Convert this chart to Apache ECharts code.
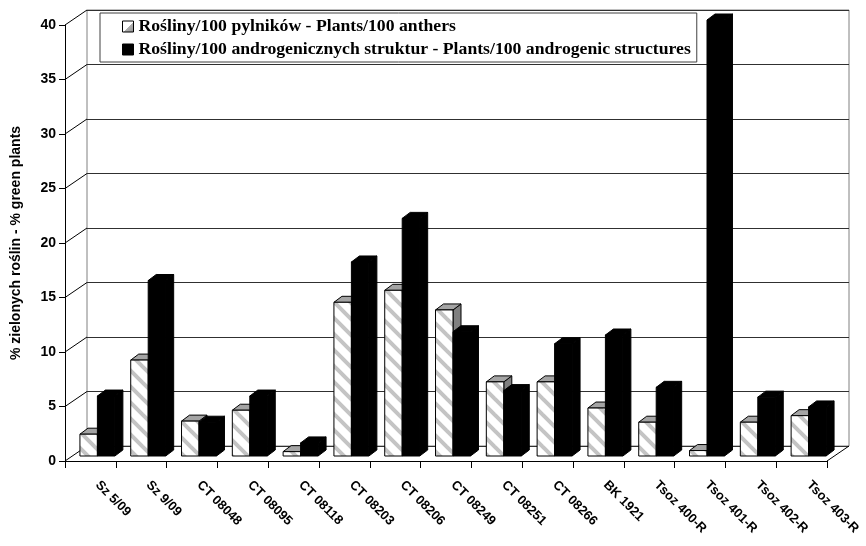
<!DOCTYPE html>
<html>
<head>
<meta charset="utf-8">
<script src="https://cdn.jsdelivr.net/npm/echarts@6/dist/echarts.min.js"></script>
<style>
  html, body { margin: 0; padding: 0; background: #ffffff; }
  #chart { width: 866px; height: 546px; }
</style>
</head>
<body>
<div id="chart"></div>
<script>
// Genotypes along the category axis
const categories = ['Sz 5/09', 'Sz 9/09', 'CT 08048', 'CT 08095', 'CT 08118', 'CT 08203', 'CT 08206',
  'CT 08249', 'CT 08251', 'CT 08266', 'BK 1921', 'Tsoz 400-R', 'Tsoz 401-R', 'Tsoz 402-R', 'Tsoz 403-R'];

// Green plants per 100 anthers
const plantsPerAnthers = [2.0, 8.8, 3.2, 4.2, 0.4, 14.1, 15.2, 13.4, 6.8, 6.8, 4.4, 3.1, 0.5, 3.1, 3.7];

// Green plants per 100 androgenic structures
const plantsPerStructures = [5.5, 16.1, 3.1, 5.5, 1.2, 17.8, 21.8, 11.4, 6.0, 10.3, 11.1, 6.3, 40.0, 5.4, 4.5];

// Value axis ticks
const yTicks = [0, 5, 10, 15, 20, 25, 30, 35, 40];

const seriesNames = [
  'Rośliny/100 pylników - Plants/100 anthers',
  'Rośliny/100 androgenicznych struktur - Plants/100 androgenic structures'
];

// Pseudo-3D geometry: back wall offset, bar plane offset, bar depth
const WALL_DX = 22, WALL_DY = -15;
const BAR_SHIFT_X = 7, BAR_SHIFT_Y = -5;
const BAR_DX = 8, BAR_DY = -6;
const BAR_FRAC = 0.344;

// Diagonal light-grey stripes on white
function makeStripePattern() {
  const size = 16;
  const c = document.createElement('canvas');
  c.width = size; c.height = size;
  const ctx = c.getContext('2d');
  ctx.fillStyle = '#ffffff';
  ctx.fillRect(0, 0, size, size);
  ctx.strokeStyle = '#c4c4c4';
  ctx.lineWidth = 4;
  for (const k of [-size, 0, size]) {
    ctx.beginPath();
    ctx.moveTo(k - 2, -2);
    ctx.lineTo(k + size + 2, size + 2);
    ctx.stroke();
  }
  return { type: 'pattern', image: c, repeat: 'repeat' };
}
const stripes = makeStripePattern();

const hatchedFaces = { front: stripes, top: '#a4a4a4', side: '#808080', stroke: '#000000' };
const solidFaces = { front: '#000000', top: '#000000', side: '#000000', stroke: '#000000' };

function makeBarRenderer(side, faces) {
  return function (params, api) {
    const i = api.value(0);
    const v = api.value(1);
    const top = api.coord([i, v]);
    const base = api.coord([i, 0]);
    const cw = api.size([1, 0])[0];
    const w = cw * BAR_FRAC;
    const cx = top[0] + BAR_SHIFT_X;
    const x0 = side === 0 ? cx - w : cx;
    const x1 = x0 + w;
    const yt = top[1] + BAR_SHIFT_Y;
    const yb = base[1] + BAR_SHIFT_Y;
    const st = { stroke: faces.stroke, lineWidth: 1 };
    return {
      type: 'group',
      children: [
        { type: 'polygon', shape: { points: [[x1, yt], [x1 + BAR_DX, yt + BAR_DY], [x1 + BAR_DX, yb + BAR_DY], [x1, yb]] },
          style: Object.assign({ fill: faces.side }, st) },
        { type: 'polygon', shape: { points: [[x0, yt], [x1, yt], [x1 + BAR_DX, yt + BAR_DY], [x0 + BAR_DX, yt + BAR_DY]] },
          style: Object.assign({ fill: faces.top }, st) },
        { type: 'rect', shape: { x: x0, y: yt, width: w, height: yb - yt },
          style: Object.assign({ fill: faces.front }, st) }
      ]
    };
  };
}

// Side-wall diagonals at every tick, plus the right edge of the floor
function renderFrame(params, api) {
  const v = api.value(0);
  const cs = params.coordSys;
  const y = api.coord([0, v])[1];
  const children = [
    { type: 'line', shape: { x1: cs.x, y1: y, x2: cs.x + WALL_DX, y2: y + WALL_DY },
      style: { stroke: '#000000', lineWidth: 1 } }
  ];
  if (v === 0) {
    children.push({ type: 'line', shape: { x1: cs.x + cs.width, y1: y, x2: cs.x + cs.width + WALL_DX, y2: y + WALL_DY },
      style: { stroke: '#000000', lineWidth: 1 } });
  }
  return { type: 'group', children: children };
}

const chart = echarts.init(document.getElementById('chart'), null, { renderer: 'canvas' });

const labelFont = { fontFamily: 'Liberation Sans', fontWeight: 'bold', color: '#000000' };

chart.setOption({
  animation: false,
  backgroundColor: '#ffffff',
  grid: [
    { left: 65, top: 25, width: 762, height: 436, show: false },
    { left: 65 + WALL_DX, top: 25 + WALL_DY, width: 762, height: 436, show: true,
      borderColor: '#808080', borderWidth: 1, backgroundColor: 'transparent' }
  ],
  legend: {
    left: 100, top: 13,
    orient: 'vertical',
    icon: 'rect',
    itemWidth: 11, itemHeight: 11,
    itemGap: 2,
    padding: [3, 6, 2, 22],
    backgroundColor: '#ffffff',
    borderColor: '#404040', borderWidth: 1,
    textStyle: { fontFamily: 'Liberation Serif', fontWeight: 'bold', fontSize: 17.7, color: '#000000', lineHeight: 21 },
    data: [
      { name: seriesNames[0], itemStyle: { borderColor: '#000000', borderWidth: 1,
        color: { type: 'linear', x: 0, y: 0, x2: 1, y2: 1,
          colorStops: [{ offset: 0, color: '#ffffff' }, { offset: 0.55, color: '#ffffff' }, { offset: 0.56, color: '#b0b0b0' }, { offset: 1, color: '#909090' }] } } },
      { name: seriesNames[1], itemStyle: { color: '#000000', borderColor: '#000000', borderWidth: 1 } }
    ]
  },
  xAxis: [
    {
      type: 'category', gridIndex: 0, data: categories, boundaryGap: true,
      axisLine: { show: true, lineStyle: { color: '#000000', width: 1 } },
      axisTick: { show: true, length: 7, lineStyle: { color: '#000000' } },
      axisLabel: Object.assign({ rotate: -45, margin: 15, fontSize: 13, interval: 0, padding: [0, 0, 0, 10] }, labelFont),
      splitLine: { show: false }
    },
    {
      type: 'category', gridIndex: 1, data: categories, boundaryGap: true,
      show: false
    }
  ],
  yAxis: [
    {
      type: 'value', gridIndex: 0, min: 0, max: 40, interval: 5,
      axisLine: { show: true, lineStyle: { color: '#000000', width: 1 } },
      axisTick: { show: true, length: 6, lineStyle: { color: '#000000' } },
      axisLabel: Object.assign({ margin: 9, fontSize: 14 }, labelFont),
      splitLine: { show: false },
      name: '% zielonych roślin - % green plants',
      nameLocation: 'middle', nameRotate: 90, nameGap: 42,
      nameTextStyle: Object.assign({ fontSize: 14 }, labelFont)
    },
    {
      type: 'value', gridIndex: 1, min: 0, max: 40, interval: 5,
      axisLine: { show: false }, axisTick: { show: false }, axisLabel: { show: false },
      splitLine: { show: true, lineStyle: { color: '#303030', width: 1 } }
    }
  ],
  series: [
    {
      name: 'frame', type: 'custom', xAxisIndex: 0, yAxisIndex: 0,
      data: yTicks.map(t => [t]),
      encode: { y: 0 },
      renderItem: renderFrame, silent: true, z: 1
    },
    {
      name: seriesNames[0], type: 'custom', xAxisIndex: 0, yAxisIndex: 0,
      itemStyle: { color: '#ffffff' },
      data: plantsPerAnthers.map((v, i) => [i, v]),
      encode: { x: 0, y: 1 },
      renderItem: makeBarRenderer(0, hatchedFaces), z: 3
    },
    {
      name: seriesNames[1], type: 'custom', xAxisIndex: 0, yAxisIndex: 0,
      itemStyle: { color: '#000000' },
      data: plantsPerStructures.map((v, i) => [i, v]),
      encode: { x: 0, y: 1 },
      renderItem: makeBarRenderer(1, solidFaces), z: 4
    }
  ]
});
</script>
</body>
</html>
